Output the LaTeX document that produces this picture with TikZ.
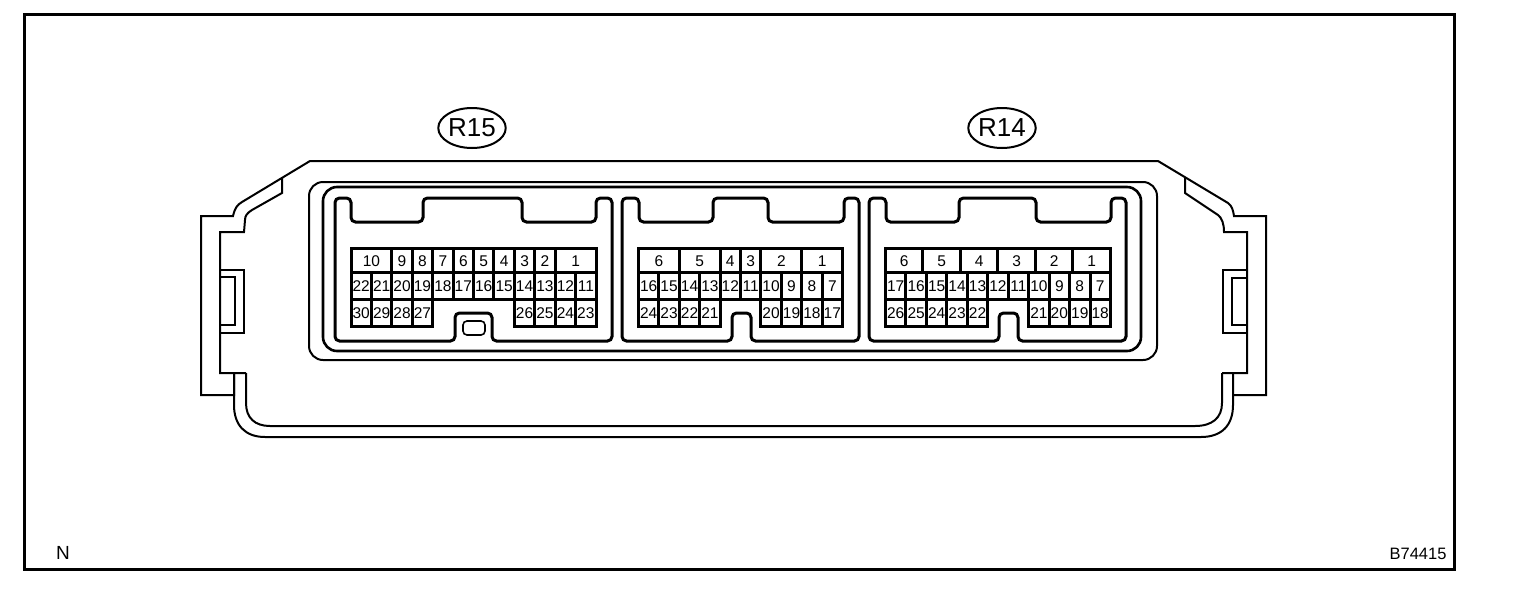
\documentclass[tikz,border=0pt]{standalone}
\usepackage{fontspec}
\setmainfont{Liberation Sans}
\tikzset{
  frameline/.style={line width=3pt,draw=black},
  bodyline/.style={line width=2pt,draw=black,line join=miter},
  conline/.style={line width=3pt,draw=black,rounded corners=4.5pt},
  cell/.style={line width=3pt,draw=black,fill=white},
  pin/.style={inner sep=0pt,text height=11pt,text depth=0pt,font=\fontsize{15.5}{16}\selectfont,text=black},
  tag/.style={ellipse,draw=black,line width=2pt,minimum width=66pt,minimum height=40pt,inner sep=0pt,font=\fontsize{26}{28}\selectfont},
  note/.style={inner sep=0pt,text=black}
}
\usetikzlibrary{shapes.geometric}
% \gridrow{x0}{pitch}{ytop}{ybottom}{from/to/label,...}
\newcommand{\gridrow}[5]{%
  \foreach \ka/\kb/\lab in {#5}{%
    \draw[cell] ({#1+\ka*#2},#3) rectangle ({#1+\kb*#2},#4);
    \node[pin] at ({#1+(\ka+\kb)*#2/2},{(#3+#4)/2+0.5}) {\lab};
  }%
}
\begin{document}
\begin{tikzpicture}[x=1pt,y=-1pt]
\useasboundingbox (0,0) rectangle (1520,592);
\fill[white] (0,0) rectangle (1520,592);
\draw[frameline] (24,14) rectangle (1454,569);
% body, outer contour
\draw[bodyline] (234,373) -- (234,395) -- (201,395) -- (201,216) -- (233,216)
  .. controls (235,208) and (237,205) .. (242,202) -- (310,161) -- (1158,161) -- (1228,203)
  .. controls (1232,206) and (1233,210) .. (1234,216) -- (1266,216) -- (1266,395) -- (1233,395);
\draw[bodyline] (234,373) -- (234,405) .. controls (234,425) and (245,437) .. (265,437)
  -- (1201,437) .. controls (1222,437) and (1233,425) .. (1233,405) -- (1233,373);
\draw[bodyline] (246,373) -- (246,403) .. controls (246,418) and (255,426) .. (270,426)
  -- (1195,426) .. controls (1212,426) and (1222,418) .. (1222,403) -- (1222,373);
% side shoulders
\draw[bodyline] (282,178) -- (282,193) -- (252,210) .. controls (247,213) and (245,216) .. (245,220)
  -- (244,232) -- (220,232) -- (220,373) -- (246,373);
\draw[bodyline] (1185,178) -- (1185,193) -- (1218,215) .. controls (1222,218) and (1224,224) .. (1224,232)
  -- (1247,232) -- (1247,373) -- (1222,373);
% clips
\draw[bodyline] (220,270) -- (244,270) -- (244,333) -- (220,333);
\draw[bodyline] (220,277) -- (235,277) -- (235,325) -- (220,325);
\draw[bodyline] (1247,270) -- (1223,270) -- (1223,333) -- (1247,333);
\draw[bodyline] (1247,278) -- (1232,278) -- (1232,325) -- (1247,325);
% recess
\draw[bodyline,rounded corners=14pt] (309,182) rectangle (1157,360);
\draw[line width=2.6pt,rounded corners=14pt] (323,187) rectangle (1141,351);
% connector outlines
\draw[conline] (335,198) -- (351,198) -- (351,222) -- (423,222) -- (423,198) -- (522,198) -- (522,222)
  -- (596,222) -- (596,198) -- (612,198) -- (612,341) -- (492,341) -- (492,313) -- (455,313) -- (455,341) -- (335,341) -- cycle;
\draw[conline] (622,198) -- (639,198) -- (639,222) -- (713,222) -- (713,198) -- (768,198) -- (768,222)
  -- (844,222) -- (844,198) -- (859,198) -- (859,341) -- (751,341) -- (751,313) -- (732,313) -- (732,341) -- (622,341) -- cycle;
\draw[conline] (869,198) -- (886,198) -- (886,222) -- (959,222) -- (959,198) -- (1036,198) -- (1036,222)
  -- (1111,222) -- (1111,198) -- (1126,198) -- (1126,341) -- (1018,341) -- (1018,313) -- (999,313) -- (999,341) -- (869,341) -- cycle;
\draw[line width=1.6pt,rounded corners=4pt] (463,321) rectangle (485,335);
% R15
\gridrow{351}{20.42}{248}{272}{0/2/10,2/3/9,3/4/8,4/5/7,5/6/6,6/7/5,7/8/4,8/9/3,9/10/2,10/12/1}
\gridrow{351}{20.42}{272}{299}{0/1/22,1/2/21,2/3/20,3/4/19,4/5/18,5/6/17,6/7/16,7/8/15,8/9/14,9/10/13,10/11/12,11/12/11}
\gridrow{351}{20.42}{299}{326}{0/1/30,1/2/29,2/3/28,3/4/27,8/9/26,9/10/25,10/11/24,11/12/23}
% middle
\gridrow{638.5}{20.4}{248}{272}{0/2/6,2/4/5,4/5/4,5/6/3,6/8/2,8/10/1}
\gridrow{638.5}{20.4}{272}{299}{0/1/16,1/2/15,2/3/14,3/4/13,4/5/12,5/6/11,6/7/10,7/8/9,8/9/8,9/10/7}
\gridrow{638.5}{20.4}{299}{326}{0/1/24,1/2/23,2/3/22,3/4/21,6/7/20,7/8/19,8/9/18,9/10/17}
% R14
\gridrow{885.5}{20.45}{248}{272}{0/1.833/6,1.833/3.667/5,3.667/5.5/4,5.5/7.333/3,7.333/9.167/2,9.167/11/1}
\gridrow{885.5}{20.45}{272}{299}{0/1/17,1/2/16,2/3/15,3/4/14,4/5/13,5/6/12,6/7/11,7/8/10,8/9/9,9/10/8,10/11/7}
\gridrow{885.5}{20.45}{299}{326}{0/1/26,1/2/25,2/3/24,3/4/23,4/5/22,7/8/21,8/9/20,9/10/19,10/11/18}
% labels
\node[tag] (r15) at (472,128) {R15};
\node[tag] (r14) at (1002,128) {R14};
\node[note,font=\fontsize{19}{21}\selectfont] (n) at (63,553) {N};
\node[note,font=\fontsize{16.5}{18}\selectfont] (code) at (1418,554) {B74415};
\end{tikzpicture}
\end{document}
